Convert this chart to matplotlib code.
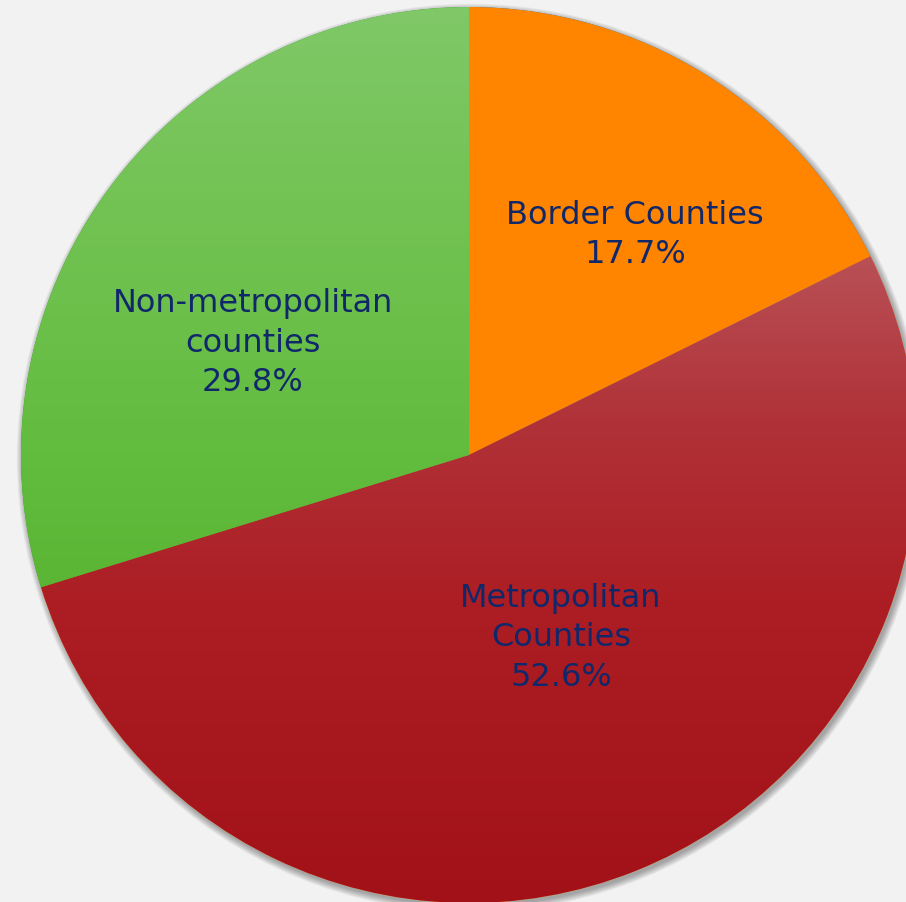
import numpy as np
import matplotlib
matplotlib.use("Agg")
import matplotlib.pyplot as plt
from matplotlib.patches import Circle

# ---- data ----
categories = ["Border Counties", "Metropolitan\nCounties", "Non-metropolitan\ncounties"]
shares = [17.7, 52.6, 29.8]
pct_labels = ["17.7%", "52.6%", "29.8%"]

# ---- style ----
W, H = 906, 902
BG = "#f2f2f2"
TEXT = "#10286a"
CX, CY, R = 469, 902 - 455, 448

# vertical gradient stops (pixel-y from top, rgb)
grad_stops = [
    [(0, (255, 133, 0)), (902, (255, 133, 0))],
    [(258, (184, 80, 86)), (420, (176, 50, 56)), (600, (172, 30, 36)), (902, (162, 17, 24))],
    [(7, (128, 200, 104)), (200, (115, 195, 84)), (450, (98, 188, 62)), (600, (90, 181, 52))],
]
label_pos = [(635, 235), (561, 638), (253, 343)]

fig = plt.figure(figsize=(W / 100, H / 100), dpi=100, facecolor=BG)
ax = fig.add_axes([0, 0, 1, 1])
ax.set_facecolor(BG)

# soft shadow
for i in range(10):
    ax.add_patch(Circle((CX + 2, CY - 3), R + i * 0.7, facecolor="black",
                        alpha=0.035, edgecolor="none", zorder=1))

wedges, _ = ax.pie(shares, startangle=90, counterclock=False, radius=R,
                   center=(CX, CY), frame=True,
                   wedgeprops=dict(edgecolor="none", linewidth=0))

ys = np.arange(H)
for w, stops in zip(wedges, grad_stops):
    w.set_zorder(2)
    py = np.array([s[0] for s in stops], float)
    cols = np.array([s[1] for s in stops], float) / 255.0
    col = np.stack([np.interp(ys, py, cols[:, k]) for k in range(3)], axis=1)
    img = np.repeat(col[:, None, :], 2, axis=1)
    im = ax.imshow(img, extent=(0, W, 0, H), origin="upper", aspect="auto",
                   zorder=3, interpolation="bilinear")
    im.set_clip_path(w)

for cat, pct, (px, py) in zip(categories, pct_labels, label_pos):
    ax.text(px, H - py, cat + "\n" + pct, ha="center", va="center",
            color=TEXT, fontsize=23, family="DejaVu Sans", linespacing=1.36,
            zorder=5)

ax.set_xlim(0, W)
ax.set_ylim(0, H)
ax.set_aspect("equal")
ax.axis("off")
fig.savefig("out.png", dpi=100, facecolor=BG)
